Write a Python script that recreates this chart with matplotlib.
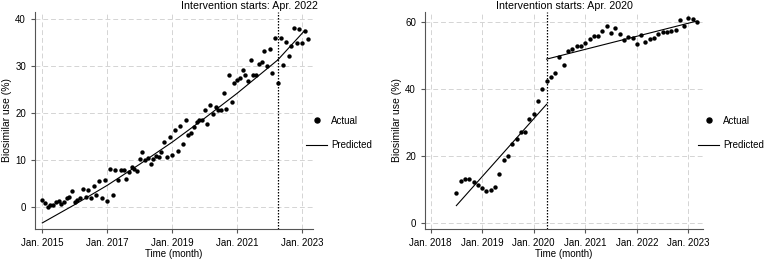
import matplotlib
matplotlib.use("Agg")
import matplotlib.pyplot as plt
from matplotlib.lines import Line2D

plt.rcParams['font.family'] = ['Liberation Sans', 'DejaVu Sans']

# left panel: months since Jan. 2015 (Jan. 2015 .. Mar. 2023)
actual_a = [1.5, 0.8, 0.0, 0.5, 0.5, 1.0, 1.3, 0.6, 1.0, 2.0, 2.1, 3.3,
            1.0, 1.5, 1.8, 3.9, 2.2, 3.5, 2.0, 4.4, 2.5, 5.6, 2.0, 5.7,
            1.2, 8.0, 2.5, 7.8, 5.7, 7.9, 7.9, 5.9, 7.5, 8.4, 8.0, 7.6,
            10.3, 11.7, 10.0, 10.5, 9.2, 10.2, 10.9, 10.6, 11.7, 13.9, 10.6, 14.9,
            11.1, 16.3, 12.0, 17.3, 13.4, 18.4, 15.4, 15.7, 17.0, 18.0, 18.4, 18.4,
            20.6, 17.6, 21.8, 19.7, 21.2, 20.6, 20.7, 24.2, 20.9, 28.1, 22.3, 26.4,
            27.0, 27.5, 29.1, 28.0, 26.8, 31.3, 28.0, 28.0, 30.5, 30.8, 33.1, 30.0,
            33.6, 28.6, 35.9, 26.3, 36.0, 30.3, 35.2, 32.1, 34.3, 38.0, 35.0, 37.8,
            34.8, 37.5, 35.8]
pred_a_pre_m = [0, 12, 24, 36, 48, 60, 72, 87]
pred_a_pre = [-3.4, 0.5, 4.6, 9.1, 13.8, 18.9, 24.2, 31.3]
pred_a_post_m = [87, 97]
pred_a_post = [31.3, 37.6]
start_a = 87
ticks_a = [0, 24, 48, 72, 96]
labels_a = ['Jan. 2015', 'Jan. 2017', 'Jan. 2019', 'Jan. 2021', 'Jan. 2023']

# right panel: months since Jan. 2018 (Jul. 2018 .. Mar. 2023)
actual_b = [8.9, 12.6, 13.2, 13.2, 12.2, 11.3,
            10.5, 9.7, 10.0, 10.8, 14.5, 18.8, 20.0, 23.5, 25.0, 27.1, 27.2, 31.2,
            32.6, 36.5, 40.1, 42.6, 43.8, 45.0, 49.7, 47.3, 51.4, 51.9, 53.0, 53.0,
            53.9, 55.1, 55.8, 55.8, 57.5, 58.9, 56.8, 58.3, 56.5, 54.6, 55.6, 55.2,
            53.4, 56.3, 54.2, 55.0, 55.2, 56.4, 57.0, 57.0, 57.3, 57.7, 60.8, 58.9,
            61.3, 61.1, 60.0]
first_b = 6
pred_b_pre_m = [6, 27]
pred_b_pre = [5.2, 35.5]
pred_b_post_m = [27, 62]
pred_b_post = [49.0, 60.4]
start_b = 27
ticks_b = [0, 12, 24, 36, 48, 60]
labels_b = ['Jan. 2018', 'Jan. 2019', 'Jan. 2020', 'Jan. 2021', 'Jan. 2022', 'Jan. 2023']

fig = plt.figure(figsize=(7.68, 2.61), dpi=100)
W, H = 768, 261


def px_axes(x0, x1, top, bottom):
    return fig.add_axes([x0 / W, 1 - bottom / H, (x1 - x0) / W, (bottom - top) / H])


def style(ax):
    for s in ['top', 'right']:
        ax.spines[s].set_visible(False)
    for s in ['left', 'bottom']:
        ax.spines[s].set_color('#555555')
        ax.spines[s].set_linewidth(0.8)
    ax.tick_params(colors='#555555', labelcolor='black', labelsize=7, length=3, width=0.8)
    ax.grid(True, color='#d4d4d4', linestyle=(0, (5, 3)), linewidth=0.7)
    ax.set_axisbelow(True)
    ax.set_xlabel('Time (month)', fontsize=7, labelpad=1)
    ax.set_ylabel('Biosimilar use (%)', fontsize=7.5, labelpad=2)


axes_spec = [
    (35, 313, actual_a, 0, pred_a_pre_m, pred_a_pre, pred_a_post_m, pred_a_post,
     start_a, ticks_a, labels_a, (-2.7, 100), (-4.7, 41.5), [0, 10, 20, 30, 40],
     'Intervention starts: Apr. 2022', 249, 306),
    (425, 703, actual_b, first_b, pred_b_pre_m, pred_b_pre, pred_b_post_m, pred_b_post,
     start_b, ticks_b, labels_b, (-1.3, 63.4), (-1.8, 63.1), [0, 20, 40, 60],
     'Intervention starts: Apr. 2020', 564, 698),
]

for (x0, x1, act, first, pm1, pv1, pm2, pv2, start, ticks, labels, xl, yl, yt,
     title, tx, lgx) in axes_spec:
    ax = px_axes(x0, x1, 12, 229)
    style(ax)
    months = list(range(first, first + len(act)))
    ax.scatter(months, act, s=10, color='black', linewidths=0, zorder=3)
    ax.plot(pm1, pv1, color='black', linewidth=0.8, zorder=2)
    ax.plot(pm2, pv2, color='black', linewidth=0.8, zorder=2)
    ax.axvline(start, color='black', linestyle=(0, (1.2, 1.2)), linewidth=0.9, zorder=2)
    ax.set_xlim(*xl)
    ax.set_ylim(*yl)
    ax.set_xticks(ticks)
    ax.set_xticklabels(labels)
    ax.set_yticks(yt)
    fig.text(tx / W, 1 - 6 / H, title, fontsize=7.7, ha='center', va='center')
    handles = [Line2D([], [], marker='o', color='black', linestyle='none', markersize=3.6),
               Line2D([], [], color='black', linewidth=0.8)]
    fig.legend(handles, ['Actual', 'Predicted'], loc='center left',
               bbox_to_anchor=(lgx / W, 1 - 133 / H), frameon=False, fontsize=7,
               handlelength=2.2, handletextpad=0.4, labelspacing=1.5, borderpad=0,
               borderaxespad=0)

fig.savefig('out.png', dpi=100)
